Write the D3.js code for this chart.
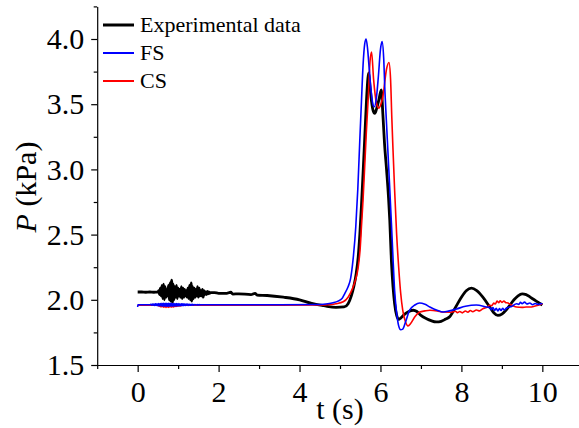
<!DOCTYPE html>
<html>
<head>
<meta charset="utf-8">
<script src="https://cdn.jsdelivr.net/npm/d3@7"></script>
<style>
  html, body { margin: 0; padding: 0; background: #fff; }
  svg { display: block; }
  text { font-family: "Liberation Serif", "Times New Roman", serif; fill: #000; }
</style>
</head>
<body>
<svg id="chart" width="579" height="428"></svg>
<script>
// Pressure histories: [time (s), pressure (kPa)]
const experimentalData = [
  [0.00, 2.060], [0.10, 2.060], [0.20, 2.058], [0.30, 2.060], [0.40, 2.058], [0.50, 2.060],
  [0.52, 2.07], [0.54, 2.04], [0.56, 2.09], [0.58, 2.03], [0.60, 2.11], [0.62, 2.01], [0.64, 2.12],
  [0.66, 2.00], [0.68, 2.10], [0.70, 2.02], [0.72, 2.08], [0.74, 2.03], [0.76, 2.11], [0.78, 2.00],
  [0.80, 2.13], [0.82, 1.99], [0.84, 2.15], [0.86, 1.98], [0.88, 2.12], [0.90, 2.00], [0.92, 2.10],
  [0.94, 2.02], [0.96, 2.11], [0.98, 2.01], [1.00, 2.09], [1.02, 2.03], [1.04, 2.08], [1.06, 2.02],
  [1.08, 2.10], [1.10, 2.01], [1.12, 2.09], [1.14, 2.02], [1.16, 2.08], [1.18, 2.03], [1.20, 2.07],
  [1.22, 2.02], [1.24, 2.09], [1.26, 2.01], [1.28, 2.11], [1.30, 2.00], [1.32, 2.13], [1.34, 1.99],
  [1.36, 2.10], [1.38, 2.01], [1.40, 2.09], [1.42, 2.02], [1.44, 2.08], [1.46, 2.03], [1.48, 2.10],
  [1.50, 2.02], [1.52, 2.09], [1.54, 2.03], [1.56, 2.07], [1.58, 2.03], [1.60, 2.08], [1.62, 2.02],
  [1.64, 2.07], [1.66, 2.04], [1.68, 2.06], [1.70, 2.04], [1.72, 2.065], [1.74, 2.045], [1.76, 2.06],
  [1.78, 2.05], [1.80, 2.055], [1.90, 2.055], [2.00, 2.05], [2.20, 2.05], [2.30, 2.058], [2.35, 2.044],
  [2.50, 2.046], [2.80, 2.04], [2.90, 2.05], [2.95, 2.036], [3.20, 2.033], [3.60, 2.02], [4.00, 2.00],
  [4.30, 1.972], [4.60, 1.955], [4.90, 1.942], [5.10, 1.945], [5.20, 1.97], [5.28, 2.03], [5.34, 2.10],
  [5.40, 2.20], [5.45, 2.33], [5.49, 2.50], [5.53, 2.72], [5.57, 2.97], [5.61, 3.23], [5.65, 3.50],
  [5.69, 3.70], [5.71, 3.74], [5.74, 3.64], [5.78, 3.52], [5.82, 3.45], [5.86, 3.43], [5.90, 3.46],
  [5.95, 3.52], [6.00, 3.59], [6.02, 3.61], [6.06, 3.42], [6.10, 3.20], [6.15, 3.00], [6.20, 2.78],
  [6.23, 2.61], [6.27, 2.30], [6.31, 2.10], [6.35, 1.97], [6.40, 1.88], [6.45, 1.85], [6.50, 1.86],
  [6.60, 1.89], [6.70, 1.91], [6.81, 1.92], [6.90, 1.91], [7.00, 1.88], [7.14, 1.855], [7.25, 1.84],
  [7.38, 1.83], [7.50, 1.835], [7.60, 1.85], [7.71, 1.87], [7.85, 1.94], [8.00, 2.02], [8.12, 2.07],
  [8.25, 2.09], [8.38, 2.07], [8.53, 2.02], [8.70, 1.945], [8.80, 1.90], [8.90, 1.88], [9.00, 1.89],
  [9.10, 1.92], [9.20, 1.96], [9.30, 2.00], [9.40, 2.03], [9.50, 2.045], [9.60, 2.04], [9.70, 2.02],
  [9.80, 2.00], [9.90, 1.98], [10.00, 1.96]
];

const fsData = [
  [0.00, 1.945], [0.005, 1.962], [0.10, 1.962], [0.30, 1.962],
  [0.32, 1.966], [0.34, 1.959], [0.36, 1.967], [0.38, 1.958], [0.40, 1.968], [0.42, 1.957],
  [0.44, 1.969], [0.46, 1.956], [0.48, 1.970], [0.50, 1.954], [0.52, 1.971], [0.54, 1.953],
  [0.56, 1.972], [0.58, 1.952], [0.60, 1.973], [0.62, 1.951], [0.64, 1.973], [0.66, 1.951],
  [0.68, 1.974], [0.70, 1.950], [0.72, 1.974], [0.74, 1.950], [0.76, 1.974], [0.78, 1.950],
  [0.80, 1.973], [0.82, 1.951], [0.84, 1.973], [0.86, 1.951], [0.88, 1.972], [0.90, 1.952],
  [0.92, 1.972], [0.94, 1.952], [0.96, 1.971], [0.98, 1.953], [1.00, 1.971], [1.02, 1.953],
  [1.04, 1.970], [1.06, 1.954], [1.08, 1.969], [1.10, 1.955], [1.12, 1.969], [1.14, 1.955],
  [1.16, 1.968], [1.18, 1.956], [1.20, 1.967], [1.22, 1.957], [1.24, 1.967], [1.26, 1.957],
  [1.28, 1.966], [1.30, 1.958], [1.32, 1.965], [1.34, 1.959], [1.36, 1.965], [1.38, 1.959],
  [1.40, 1.964], [1.42, 1.960], [1.44, 1.964], [1.46, 1.960], [1.48, 1.963], [1.50, 1.961],
  [1.52, 1.963], [1.54, 1.961], [1.56, 1.962],
  [2.50, 1.962], [3.50, 1.962], [4.50, 1.964], [4.70, 1.970], [4.83, 1.978], [4.95, 1.99],
  [5.05, 2.01], [5.12, 2.05], [5.20, 2.10], [5.26, 2.16], [5.32, 2.30], [5.39, 2.56], [5.44, 2.85],
  [5.49, 3.23], [5.53, 3.52], [5.57, 3.80], [5.61, 3.96], [5.645, 4.00], [5.68, 3.93], [5.72, 3.78],
  [5.77, 3.60], [5.82, 3.49], [5.85, 3.48], [5.90, 3.55], [5.95, 3.72], [6.00, 3.92], [6.04, 3.98],
  [6.08, 3.85], [6.11, 3.60], [6.15, 3.35], [6.19, 3.10], [6.23, 2.85], [6.27, 2.59], [6.31, 2.32],
  [6.35, 2.07], [6.40, 1.90], [6.45, 1.80], [6.50, 1.77], [6.55, 1.775], [6.62, 1.83], [6.72, 1.92],
  [6.85, 1.96], [6.97, 1.975], [7.10, 1.965], [7.22, 1.945], [7.40, 1.92], [7.55, 1.906], [7.70, 1.915],
  [7.88, 1.93], [8.10, 1.95], [8.37, 1.96], [8.62, 1.945], [8.70, 1.94], [8.74, 1.925], [8.78, 1.94],
  [8.82, 1.918], [8.86, 1.935], [8.90, 1.915], [8.94, 1.932], [8.98, 1.918], [9.02, 1.935],
  [9.06, 1.922], [9.11, 1.935], [9.25, 1.95], [9.36, 1.97], [9.42, 1.965], [9.46, 1.98], [9.50, 1.97],
  [9.56, 1.982], [9.62, 1.968], [9.69, 1.975], [9.76, 1.962], [9.82, 1.972], [9.90, 1.965],
  [9.97, 1.972], [10.00, 1.968]
];

const csData = [
  [0.00, 1.958], [0.30, 1.958], [0.50, 1.958],
  [0.52, 1.952], [0.54, 1.964], [0.56, 1.947], [0.58, 1.966], [0.60, 1.945], [0.62, 1.968],
  [0.64, 1.943], [0.66, 1.968], [0.68, 1.942], [0.70, 1.969], [0.72, 1.942], [0.74, 1.968],
  [0.76, 1.942], [0.78, 1.967], [0.80, 1.943], [0.82, 1.966], [0.84, 1.944], [0.86, 1.965],
  [0.88, 1.945], [0.90, 1.964], [0.92, 1.947], [0.94, 1.963], [0.96, 1.949], [0.98, 1.962],
  [1.00, 1.951], [1.02, 1.961], [1.04, 1.953], [1.06, 1.960], [1.08, 1.955], [1.10, 1.958],
  [2.50, 1.958], [3.50, 1.958], [4.50, 1.960], [4.70, 1.962], [4.90, 1.970], [5.08, 1.985],
  [5.20, 2.02], [5.30, 2.08], [5.38, 2.15], [5.45, 2.25], [5.50, 2.40], [5.53, 2.56], [5.57, 2.77],
  [5.61, 3.02], [5.65, 3.28], [5.70, 3.56], [5.74, 3.82], [5.78, 3.90], [5.83, 3.69], [5.90, 3.51],
  [5.96, 3.47], [6.01, 3.50], [6.06, 3.56], [6.15, 3.77], [6.21, 3.82], [6.25, 3.69], [6.28, 3.40],
  [6.31, 3.15], [6.35, 2.84], [6.40, 2.50], [6.45, 2.25], [6.50, 2.05], [6.55, 1.92], [6.62, 1.83],
  [6.68, 1.80], [6.75, 1.82], [6.85, 1.87], [6.97, 1.906], [7.10, 1.915], [7.22, 1.92], [7.40, 1.915],
  [7.55, 1.906], [7.75, 1.905], [7.85, 1.912], [7.90, 1.902], [7.96, 1.91], [8.02, 1.90], [8.10, 1.914],
  [8.16, 1.905], [8.22, 1.918], [8.28, 1.908], [8.37, 1.922], [8.45, 1.915], [8.53, 1.932],
  [8.62, 1.94], [8.70, 1.958], [8.75, 1.955], [8.80, 1.975], [8.84, 1.968], [8.88, 1.99],
  [8.92, 1.978], [8.96, 1.992], [9.00, 1.98], [9.05, 1.99], [9.10, 1.978], [9.15, 1.976],
  [9.22, 1.962], [9.27, 1.955], [9.36, 1.945], [9.50, 1.942], [9.60, 1.945], [9.69, 1.945],
  [9.80, 1.95], [9.90, 1.958], [9.97, 1.965], [10.00, 1.97]
];

const seriesNames = ["Experimental data", "FS", "CS"];
const seriesColors = ["#000000", "#0000ff", "#ff0000"];
const seriesWidths = [2.8, 1.6, 1.6];

const xMajorTicks = [0, 2, 4, 6, 8, 10];
const xMinorTicks = [-1, 1, 3, 5, 7, 9];
const yMajorTicks = [1.5, 2.0, 2.5, 3.0, 3.5, 4.0];
const yMinorTicks = [1.75, 2.25, 2.75, 3.25, 3.75, 4.25];

const svg = d3.select("#chart");

const x = d3.scaleLinear().domain([-1, 11]).range([97.2, 582.8]);
const y = d3.scaleLinear().domain([1.5, 4.25]).range([365, 6.4]);

// Curves (drawn beneath the axes)
const line = d3.line()
  .x(d => x(d[0]))
  .y(d => y(d[1]))
  .curve(d3.curveMonotoneX);

const drawOrder = [
  { data: experimentalData, i: 0 },
  { data: csData, i: 2 },
  { data: fsData, i: 1 }
];
svg.append("g")
  .selectAll("path")
  .data(drawOrder)
  .join("path")
  .attr("d", d => line(d.data))
  .attr("fill", "none")
  .attr("stroke", d => seriesColors[d.i])
  .attr("stroke-width", d => seriesWidths[d.i])
  .attr("stroke-linejoin", "round");

// Axes
const fmtY = d3.format(".1f");

const yAxis = svg.append("g")
  .attr("transform", `translate(${x(-1)},0)`)
  .call(d3.axisLeft(y).tickValues(yMajorTicks).tickFormat(fmtY).tickSize(6).tickSizeOuter(0).tickPadding(7));
svg.append("g")
  .attr("transform", `translate(${x(-1)},0)`)
  .call(d3.axisLeft(y).tickValues(yMinorTicks).tickFormat("").tickSize(3.5).tickSizeOuter(0))
  .call(g => g.select(".domain").remove());

const xAxis = svg.append("g")
  .attr("transform", `translate(0,${y(1.5)})`)
  .call(d3.axisBottom(x).tickValues(xMajorTicks).tickFormat(d3.format("d")).tickSize(7).tickSizeOuter(0).tickPadding(9));
svg.append("g")
  .attr("transform", `translate(0,${y(1.5)})`)
  .call(d3.axisBottom(x).tickValues(xMinorTicks).tickFormat("").tickSize(4).tickSizeOuter(0))
  .call(g => g.select(".domain").remove());

svg.selectAll(".domain, .tick line").attr("stroke", "#000").attr("stroke-width", 1.2);
svg.selectAll(".tick text")
  .attr("font-family", "'Liberation Serif', 'Times New Roman', serif")
  .attr("font-size", 30)
  .attr("fill", "#000");

// Axis titles
svg.append("text")
  .attr("x", 340)
  .attr("y", 419)
  .attr("text-anchor", "middle")
  .attr("font-size", 30)
  .text("t (s)");

const yTitle = svg.append("text")
  .attr("transform", "translate(36,187) rotate(-90)")
  .attr("text-anchor", "middle")
  .attr("font-size", 30);
yTitle.append("tspan").attr("font-style", "italic").text("P");
yTitle.append("tspan").text(" (kPa)");

// Legend
const legend = svg.append("g");
const legendY = [25, 53, 81];
seriesNames.forEach((name, i) => {
  legend.append("line")
    .attr("x1", 103).attr("x2", 134)
    .attr("y1", legendY[i]).attr("y2", legendY[i])
    .attr("stroke", seriesColors[i])
    .attr("stroke-width", i === 0 ? 3 : 2);
  legend.append("text")
    .attr("x", 140)
    .attr("y", legendY[i] + 7)
    .attr("font-size", 22)
    .text(name);
});
</script>
</body>
</html>
